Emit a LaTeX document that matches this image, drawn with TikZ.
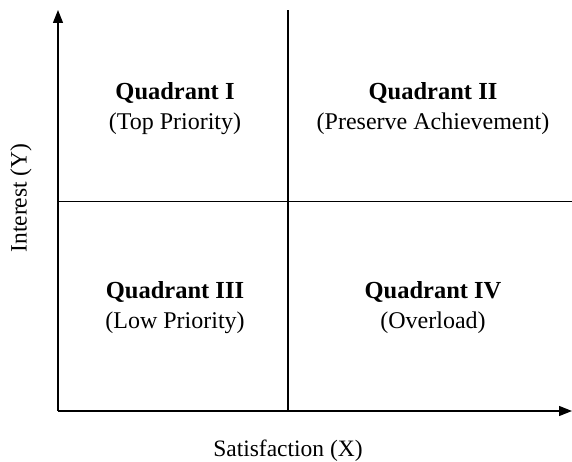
\documentclass[tikz,border=0pt]{standalone}
\usepackage{fontspec}
\setmainfont{Liberation Serif}
\usetikzlibrary{arrows.meta}
\begin{document}
\begin{tikzpicture}[x=1pt, y=1pt, line width=1.3pt,
  axis line/.style={-{Triangle[length=13pt,width=10pt]}},
  title text/.style={font=\fontsize{24.5}{29}\selectfont\bfseries, anchor=base},
  sub text/.style={font=\fontsize{24}{29}\selectfont, anchor=base},
  axis text/.style={font=\fontsize{23.5}{28}\selectfont}]
  \useasboundingbox (0,0) rectangle (572,461);

  % axes and dividers
  \coordinate (o) at (58,50);
  \coordinate (ytip) at (58,451);
  \coordinate (xtip) at (572,50);
  \coordinate (vtop) at (288,451);
  \coordinate (vbot) at (288,50);
  \coordinate (hleft) at (58,259.5);
  \coordinate (hright) at (572,259.5);
  \draw[axis line] (o) -- (ytip);
  \draw[axis line] (o) -- (xtip);
  \draw (vbot) -- (vtop);
  \draw (hleft) -- (hright);

  % quadrant labels
  \node[title text] (q1) at (175,361) {Quadrant I};
  \node[sub text] (q1sub) at (175,331) {(Top Priority)};
  \node[title text] (q2) at (433,361) {Quadrant II};
  \node[sub text] (q2sub) at (433,331) {(Preserve Achievement)};
  \node[title text] (q3) at (175,163) {Quadrant III};
  \node[sub text] (q3sub) at (175,133) {(Low Priority)};
  \node[title text] (q4) at (433,163) {Quadrant IV};
  \node[sub text] (q4sub) at (433,133) {(Overload)};

  % axis labels
  \node[axis text] (xlabel) at (288,10) {Satisfaction (X)};
  \node[axis text, rotate=90] (ylabel) at (21,263) {Interest (Y)};
\end{tikzpicture}
\end{document}
